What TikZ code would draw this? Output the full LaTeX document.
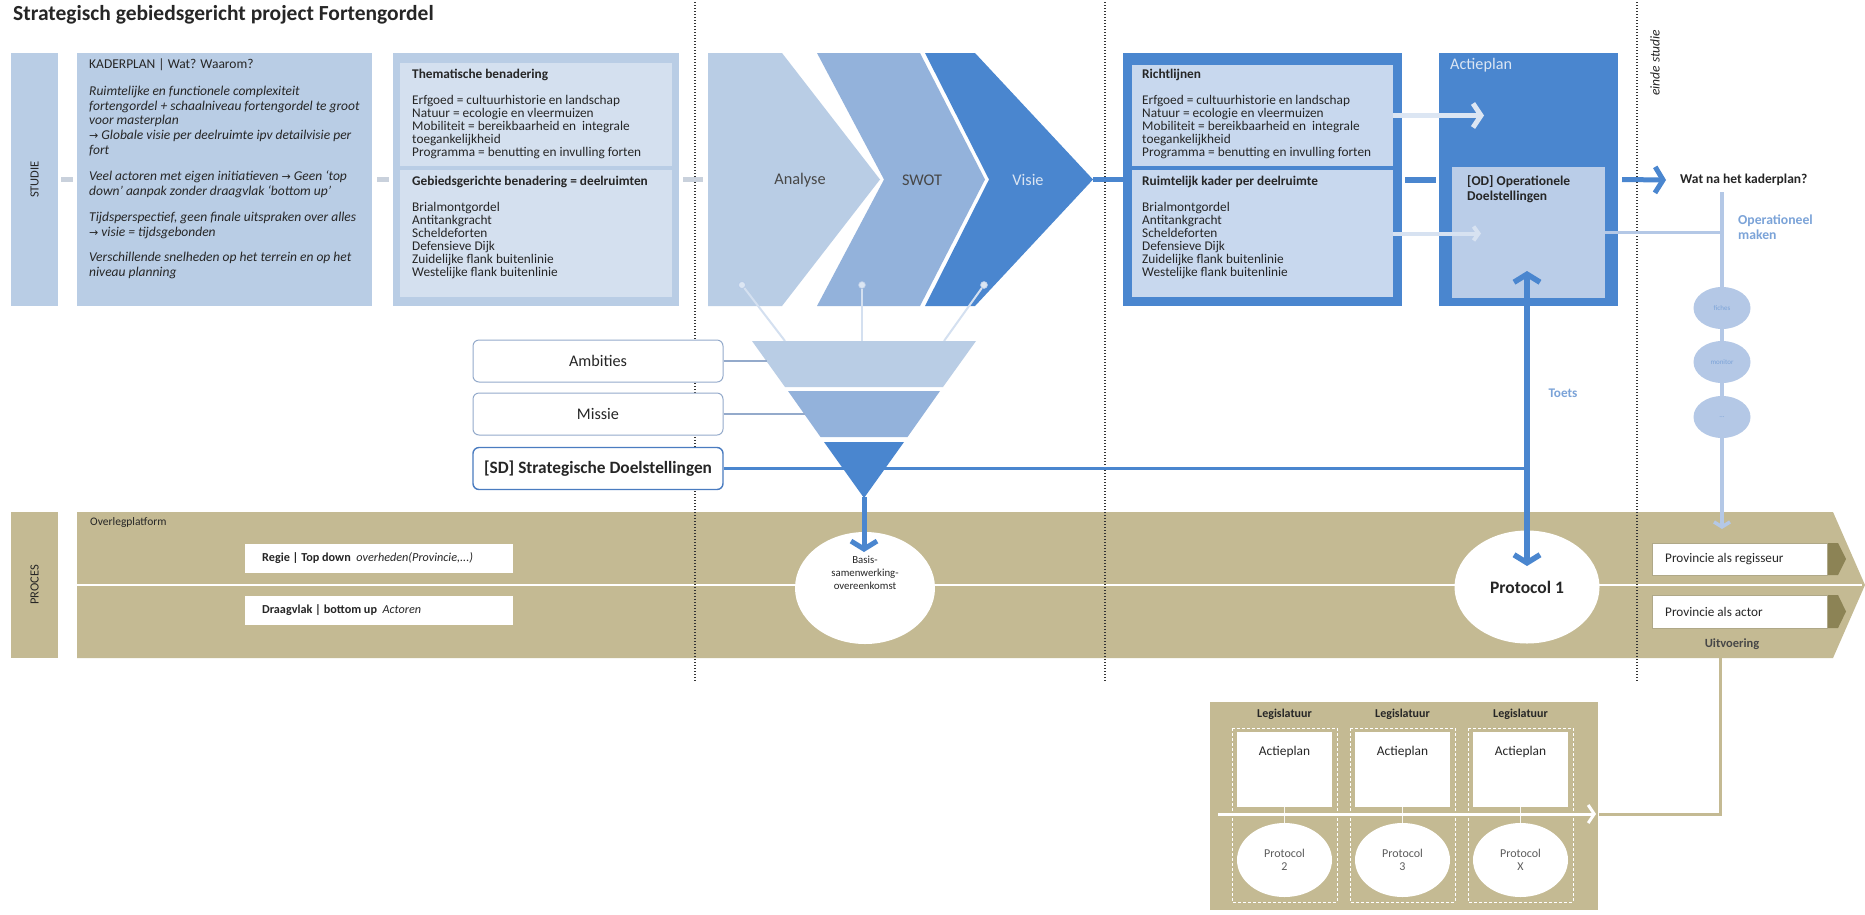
\documentclass[tikz,border=0pt]{standalone}
\usepackage{fontspec}
\setmainfont{Carlito}
\newfontfamily\arrowfont{DejaVu Sans}
\usetikzlibrary{arrows.meta,shapes.geometric}
\definecolor{lb}{HTML}{B9CDE5}
\definecolor{lbin}{HTML}{D4E0EF}
\definecolor{mb}{HTML}{93B2DB}
\definecolor{sb}{HTML}{4A86CF}
\definecolor{rin}{HTML}{C8D8EE}
\definecolor{odin}{HTML}{BACDE8}
\definecolor{tan}{HTML}{C4BA93}
\definecolor{olive}{HTML}{8C8355}
\definecolor{txt}{HTML}{262626}
\definecolor{pale}{HTML}{DCE6F3}
\definecolor{thinb}{HTML}{B4C8E6}
\definecolor{gdash}{HTML}{C9D1DC}
\definecolor{lbtext}{HTML}{7BA3D8}
\definecolor{pillb}{HTML}{94AACB}
\definecolor{sdb}{HTML}{4A7CC0}
\definecolor{dotc}{HTML}{333333}
\newcommand{\arr}{{\arrowfont\fontsize{11}{10}\selectfont →}}
\tikzset{
  blk/.style={inner sep=0pt, outer sep=0pt, draw=none},
  tx/.style={inner sep=0pt, align=left, text=txt, font=\fontsize{13.3}{13}\selectfont},
  graydash/.style={draw=gdash, line width=5pt},
  bluecon/.style={draw=sb, line width=5pt},
  barbhead/.style={-{Straight Barb[length=8pt,width=24pt]}},
  dotline/.style={draw=dotc, line width=1.3pt, dash pattern=on 1.4pt off 1.6pt},
  pill/.style={rectangle, rounded corners=6pt, draw=pillb, line width=1pt, fill=white, minimum width=250pt, minimum height=42pt, text=txt, font=\fontsize{16.2}{18}\selectfont},
  funline/.style={draw=pillb, line width=1.5pt},
  chline/.style={draw=pale!80!thinb, line width=2pt},
  chdot/.style={circle, fill=pale, draw=thinb, line width=0.6pt, minimum size=7pt, inner sep=0pt},
  circ/.style={ellipse, fill=thinb, minimum width=57pt, minimum height=42pt, inner sep=0pt, text=lbtext, font=\fontsize{7}{8}\selectfont},
  provbox/.style={rectangle, fill=white, draw=olive!70, line width=0.8pt, minimum width=175pt, minimum height=32pt, inner sep=0pt},
  tanline/.style={draw=tan, line width=3pt},
  chevtxt/.style={text=txt!85, font=\fontsize{16.3}{18}\selectfont}
}
\begin{document}
\begin{tikzpicture}[x=1pt,y=-1pt]
\useasboundingbox (0,0) rectangle (1865,914);
\fill[white] (0,0) rectangle (1865,914);

% title
\node[anchor=west, inner sep=0pt, text=txt, font=\fontsize{21.5}{24}\selectfont\bfseries] (title) at (13,15) {Strategisch gebiedsgericht project Fortengordel};

% ===== PROCES band =====
\node[blk, fill=tan, minimum width=47pt, minimum height=146pt] (procesband) at (34.5,585) {};
\node[rotate=90, text=txt, font=\fontsize{12.5}{14}\selectfont] (proceslbl) at (procesband.center) {PROCES};
\fill[tan] (77,512) -- (1833,512) -- (1865,585) -- (1833,658) -- (77,658) -- cycle;
\draw[white, line width=2pt] (77,585) -- (1862,585);
\node[anchor=west, inner sep=0pt, text=txt, font=\fontsize{11.5}{13}\selectfont] (overleg) at (90,522) {Overlegplatform};

% dotted lines
\draw[dotline] (695,2) -- (695,682);
\draw[dotline] (1105,2) -- (1105,682);
\draw[dotline] (1637,2) -- (1637,682);

% ===== STUDIE row =====
\node[blk, fill=lb, minimum width=47pt, minimum height=253pt] (studie) at (34.5,179.5) {};
\node[rotate=90, text=txt, font=\fontsize{12.5}{14}\selectfont] (studielbl) at (studie.center) {STUDIE};

\node[blk, fill=lb, minimum width=295pt, minimum height=253pt] (kader) at (224.5,179.5) {};
\node[tx, anchor=north west, font=\fontsize{13.5}{14.8}\selectfont] (kadertxt) at (89,59) {KADERPLAN | Wat? Waarom?\\[11.5pt]
\textit{Ruimtelijke en functionele complexiteit}\\
\textit{fortengordel + schaalniveau fortengordel te groot}\\
\textit{voor masterplan}\\
\textit{\arr\ Globale visie per deelruimte ipv detailvisie per}\\
\textit{fort}\\[11.5pt]
\textit{Veel actoren met eigen initiatieven \arr\ Geen `top}\\
\textit{down' aanpak zonder draagvlak `bottom up'}\\[11.5pt]
\textit{Tijdsperspectief, geen finale uitspraken over alles}\\
\textit{\arr\ visie = tijdsgebonden}\\[10.5pt]
\textit{Verschillende snelheden op het terrein en op het}\\
\textit{niveau planning}};

\node[blk, fill=lb, minimum width=286pt, minimum height=253pt] (them) at (536,179.5) {};
\node[blk, fill=lbin, minimum width=272pt, minimum height=103pt] (themA) at (536,114.5) {};
\node[blk, fill=lbin, minimum width=272pt, minimum height=127pt] (themB) at (536,233.5) {};
\node[tx, anchor=north west] (themtxtA) at (412,69) {\textbf{Thematische benadering}\\[13pt]
Erfgoed = cultuurhistorie en landschap\\
Natuur = ecologie en vleermuizen\\
Mobiliteit = bereikbaarheid en\ \ integrale\\
toegankelijkheid\\
Programma = benutting en invulling forten};
\node[tx, anchor=north west] (themtxtB) at (412,176) {\textbf{Gebiedsgerichte benadering = deelruimten}\\[13pt]
Brialmontgordel\\
Antitankgracht\\
Scheldeforten\\
Defensieve Dijk\\
Zuidelijke flank buitenlinie\\
Westelijke flank buitenlinie};

% chevrons
\fill[mb] (817,53) -- (920,53) -- (985,179.5) -- (920,306) -- (817,306) -- (884,179.5) -- cycle;
\fill[sb] (925,53) -- (975,53) -- (1093,179.5) -- (975,306) -- (925,306) -- (989,179.5) -- cycle;
\fill[lb] (708,53) -- (782,53) -- (880,179.5) -- (782,306) -- (708,306) -- cycle;
\coordinate (anaW) at (708,179.5);
\coordinate (visieTip) at (1093,179.5);
\node[chevtxt] (analyse) at (800,180) {Analyse};
\node[chevtxt] (swot) at (922,180) {SWOT};
\node[chevtxt, text=pale] (visie) at (1028,180) {Visie};

% gray connectors
\draw[graydash] ([xshift=3pt]studie.east) -- ([xshift=-4pt]kader.west);
\draw[graydash] ([xshift=5pt]kader.east) -- ([xshift=-4pt]them.west);
\draw[graydash] ([xshift=4pt]them.east) -- ([xshift=-5pt]anaW);

% Richtlijnen
\node[blk, fill=sb, minimum width=279pt, minimum height=253pt] (richt) at (1262.5,179.5) {};
\node[blk, fill=rin, minimum width=261pt, minimum height=101pt] (richtA) at (1262.5,115.5) {};
\node[blk, fill=rin, minimum width=261pt, minimum height=127pt] (richtB) at (1262.5,233.5) {};
\node[tx, anchor=north west] (richttxtA) at (1142,69) {\textbf{Richtlijnen}\\[13pt]
Erfgoed = cultuurhistorie en landschap\\
Natuur = ecologie en vleermuizen\\
Mobiliteit = bereikbaarheid en\ \ integrale\\
toegankelijkheid\\
Programma = benutting en invulling forten};
\node[tx, anchor=north west] (richttxtB) at (1142,176) {\textbf{Ruimtelijk kader per deelruimte}\\[13pt]
Brialmontgordel\\
Antitankgracht\\
Scheldeforten\\
Defensieve Dijk\\
Zuidelijke flank buitenlinie\\
Westelijke flank buitenlinie};

% Actieplan
\node[blk, fill=sb, minimum width=179pt, minimum height=253pt] (actie) at (1528.5,179.5) {};
\node[blk, fill=odin, minimum width=153pt, minimum height=131pt] (od) at (1528.5,232.5) {};
\node[anchor=west, inner sep=0pt, text=pale, font=\fontsize{16.2}{18}\selectfont] (actielbl) at (1450,65) {Actieplan};
\node[tx, anchor=north west, font=\fontsize{13.5}{15}\selectfont\bfseries] (odtxt) at (1467,175) {[OD] Operationele\\Doelstellingen};

% blue connectors
\draw[bluecon] (visieTip) -- (richt.west);
\draw[draw=sb, line width=6pt] ([xshift=3pt]richt.east) -- ([xshift=-3pt]actie.west);

% pale arrows
\coordinate (ra2) at (1484,115.5);
\coordinate (rb2) at (1481,233.5);
\draw[draw=pale, line width=5pt, barbhead] (richtA.east) -- (ra2);
\draw[draw=pale!85!odin, line width=4pt, -{Straight Barb[length=5pt,width=14pt]}] (richtB.east) -- (rb2);

% Wat na
\node[anchor=west, inner sep=0pt, text=txt, font=\fontsize{13.5}{15}\selectfont\bfseries] (watna) at (1680,180) {Wat na het kaderplan?};
\draw[draw=sb, line width=5pt, -{Straight Barb[length=8pt,width=26pt]}] ([xshift=4pt]actie.east) -- ([xshift=-14pt]watna.west);
\node[rotate=90, anchor=west, inner sep=0pt, text=txt, font=\fontsize{13.5}{15}\selectfont\itshape] (einde) at (1655,96) {einde studie};

% light vertical line + circles
\coordinate (vtop) at (1722,192);
\coordinate (vbot) at (1722,529);
\coordinate (vod) at (1722,232.5);
\draw[draw=thinb, line width=3.5pt, -{Straight Barb[length=5pt,width=16pt]}] (vtop) -- (vbot);
\draw[draw=thinb, line width=2.5pt] (od.east) -- (vod);
\node[circ] (fiches) at (1722,308) {fiches};
\node[circ] (monitor) at (1722,362) {monitor};
\node[circ] (etc) at (1722,417) {...};
\node[anchor=north west, inner sep=0pt, align=left, text=lbtext, font=\fontsize{13.7}{15}\selectfont\bfseries] (opmaken) at (1738,215) {Operationeel\\maken};

% chevron links to funnel
\node[chdot] (dA) at (742,285) {};
\node[chdot] (dS) at (862,285) {};
\node[chdot] (dV) at (984,285) {};
\coordinate (fA) at (785,341);
\coordinate (fS) at (862,341);
\coordinate (fV) at (944,341);
\draw[chline] (dA) -- (fA);
\draw[chline] (dS) -- (fS);
\draw[chline] (dV) -- (fV);

% funnel
\fill[lb] (752,341) -- (976,341) -- (943,387) -- (785,387) -- cycle;
\fill[mb] (788,391) -- (940,391) -- (907.5,437) -- (820.5,437) -- cycle;
\fill[sb] (824,442) -- (904,442) -- (864,498) -- cycle;
\coordinate (fapex) at (864,497);
\coordinate (fa) at (767,361);
\coordinate (fm) at (805,414);

% pills
\node[pill] (amb) at (598,361) {Ambities};
\node[pill] (mis) at (598,414) {Missie};
\node[pill, draw=sdb, line width=1.4pt, font=\fontsize{17.3}{19}\selectfont\bfseries] (sd) at (598,468.5) {[SD] Strategische Doelstellingen};
\draw[funline] (amb.east) -- (fa);
\draw[funline] (mis.east) -- (fm);

% regie / draagvlak
\node[blk, fill=white, minimum width=268pt, minimum height=29pt] (regie) at (379,558.5) {};
\node[anchor=west, inner sep=0pt, text=txt, font=\fontsize{12.2}{13}\selectfont] (regietxt) at (262,558.5) {\textbf{Regie | Top down}\ \ \textit{overheden(Provincie,...)}};
\node[blk, fill=white, minimum width=268pt, minimum height=29pt] (draag) at (379,610.5) {};
\node[anchor=west, inner sep=0pt, text=txt, font=\fontsize{12.2}{13}\selectfont] (draagtxt) at (262,610.5) {\textbf{Draagvlak | bottom up}\ \ \textit{Actoren}};

% circles in proces band
\node[ellipse, fill=white, minimum width=140pt, minimum height=112pt, inner sep=0pt] (basis) at (865,588) {};
\node[align=center, inner sep=0pt, text=txt, font=\fontsize{10.8}{13}\selectfont] (basistxt) at (865,573) {Basis-\\samenwerking-\\overeenkomst};
\node[ellipse, fill=white, minimum width=145pt, minimum height=113pt, inner sep=0pt, text=txt, font=\fontsize{17.5}{19}\selectfont\bfseries] (p1) at (1527,587) {Protocol 1};

% SD line and Toets
\coordinate (tj) at (1527,468.5);
\coordinate (ttop) at (1527,271);
\coordinate (tbot) at (1527,566);
\draw[draw=sb, line width=2.8pt] (sd.east) -- (tj);
\draw[draw=sb, line width=5.5pt, {Straight Barb[length=8pt,width=26pt]}-{Straight Barb[length=8pt,width=26pt]}] (tbot) -- (ttop);
\node[text=lbtext, font=\fontsize{13.2}{15}\selectfont\bfseries] (toets) at (1563,393) {Toets};

% funnel arrow
\coordinate (basisin) at (864,552);
\draw[draw=sb, line width=5pt, -{Straight Barb[length=8pt,width=26pt]}] (fapex) -- (basisin);

% provincie boxes
\fill[olive] (1822,543) -- (1838,543) -- (1846,559) -- (1838,575) -- (1822,575) -- cycle;
\fill[olive] (1822,595) -- (1838,595) -- (1846,611.5) -- (1838,628) -- (1822,628) -- cycle;
\node[provbox] (regisseur) at (1739.5,559) {};
\node[provbox, minimum height=33pt] (actor) at (1739.5,611.5) {};
\node[anchor=west, inner sep=0pt, text=txt, font=\fontsize{13.2}{15}\selectfont] (regtxt) at (1665,559) {Provincie als regisseur};
\node[anchor=west, inner sep=0pt, text=txt, font=\fontsize{13.2}{15}\selectfont] (acttxt) at (1665,611.5) {Provincie als actor};
\node[text=txt!85, font=\fontsize{12.5}{14}\selectfont\bfseries] (uitv) at (1732,644) {Uitvoering};

% Legislatuur block
\node[blk, fill=tan, minimum width=388pt, minimum height=208pt] (legbox) at (1404,806) {};
\foreach \i/\x/\p in {1/1232/2,2/1350/3,3/1468/X}{
  \node[text=txt, font=\fontsize{12}{13}\selectfont\bfseries] (leg\i) at (\x+52.5,714) {Legislatuur};
  \draw[white, line width=0.9pt, dash pattern=on 3pt off 2pt] (\x,728) rectangle (\x+105,902);
  \node[blk, fill=white, minimum width=95pt, minimum height=75pt] (ap\i) at (\x+52.5,769.5) {};
  \node[text=txt, font=\fontsize{13.4}{15}\selectfont] (aptxt\i) at (\x+52.5,752) {Actieplan};
  \node[ellipse, fill=white, minimum width=95pt, minimum height=74pt, inner sep=0pt, align=center, text=txt!75, font=\fontsize{12}{13}\selectfont] (pr\i) at (\x+52.5,860) {Protocol\\\p};
  \draw[white!85!tan, line width=1pt] (ap\i.south) -- (pr\i.north);
}
\coordinate (wa1) at (1218,814);
\coordinate (wa2) at (1596,814);
\coordinate (uitvbot) at (1720,658);
\coordinate (uitvcorner) at (1720,814);
\draw[white, line width=3pt, -{Straight Barb[length=6pt,width=18pt]}] (wa1) -- (wa2);
\draw[tanline] (uitvbot) -- (uitvcorner) -- ([xshift=3pt]wa2);
\end{tikzpicture}
\end{document}
